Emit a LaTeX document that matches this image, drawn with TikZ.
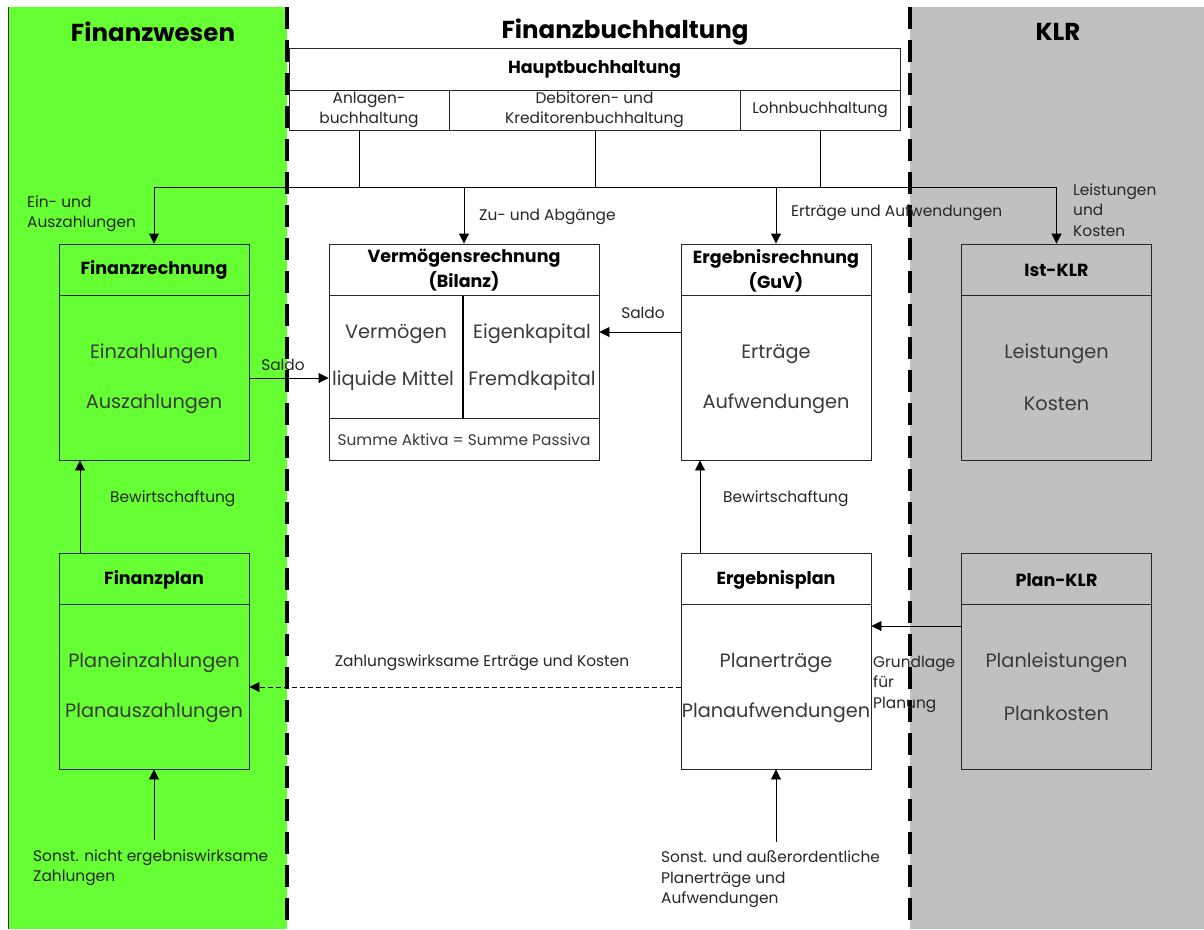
\documentclass[tikz,border=0pt]{standalone}
\usepackage{fontspec}
\setmainfont{Poppins}
\usetikzlibrary{arrows.meta}
\definecolor{fgreen}{HTML}{66FF33}
\definecolor{klrgrey}{HTML}{C0C0C0}
\definecolor{bodytxt}{HTML}{3A3A3A}
\begin{document}
\begin{tikzpicture}[x=1pt,y=-1pt,
  box/.style={draw=black!85, line width=0.9pt, minimum width=190pt, minimum height=216pt, inner sep=0pt},
  cell/.style={draw=black!85, line width=0.9pt, inner sep=0pt, align=center, font=\fontsize{15.4}{20}\selectfont, text=black!85},
  hdr/.style={font=\fontsize{17.5}{25}\selectfont\bfseries, align=center},
  body/.style={font=\fontsize{19.3}{22}\selectfont, text=bodytxt},
  lbl/.style={font=\fontsize{15.4}{20.5}\selectfont, align=left, inner sep=0pt, text=black!85},
  arr/.style={line width=0.9pt, -{Triangle[length=10pt,width=10pt]}},
  sepline/.style={line width=3.5pt, dash pattern=on 22pt off 11pt},
  ttl/.style={font=\fontsize{24.5}{28}\selectfont\bfseries}]
\useasboundingbox (0,0) rectangle (1204,929);
% regions
\fill[white] (0,0) rectangle (1204,929);
\fill[fgreen] (8,7) rectangle (287,929);
\draw[black!80, line width=0.8pt] (8,7) -- (8,929);
\fill[klrgrey] (910,7) rectangle (1204,929);
\draw[sepline] (287,7) -- (287,929);
\draw[sepline] (910,7) -- (910,929);
% titles
\node[ttl] (tfw) at (153,32) {Finanzwesen};
\node[ttl] (tfb) at (625,32) {Finanzbuchhaltung};
\node[ttl] (tklr) at (1058,32) {KLR};
% Hauptbuchhaltung
\node[cell, fill=white, minimum width=611pt, minimum height=42pt, font=\fontsize{17.5}{20}\selectfont\bfseries, text=black] (hb) at (594.5,69) {Hauptbuchhaltung};
\node[cell, fill=white, minimum width=160pt, minimum height=40pt] (anl) at (369,110) {Anlagen-\\buchhaltung};
\node[cell, fill=white, minimum width=291pt, minimum height=40pt] (deb) at (594.5,110) {Debitoren- und\\Kreditorenbuchhaltung};
\node[cell, fill=white, minimum width=160pt, minimum height=40pt] (lohn) at (820,110) {Lohnbuchhaltung};
% boxes
\node[box, fill=fgreen] (fr) at (154,352) {};
\node[box, fill=white, minimum width=270pt] (vr) at (464,352) {};
\node[box, fill=white] (er) at (776,352) {};
\node[box, fill=klrgrey] (ik) at (1056.5,352) {};
\node[box, fill=fgreen] (fp) at (154,661) {};
\node[box, fill=white] (ep) at (776,661) {};
\node[box, fill=klrgrey] (pk) at (1056.5,661) {};
\foreach \b in {fr,vr,er,ik,fp,ep,pk}{
  \path (\b.north west) ++(0,52) coordinate (h\b);
  \draw[black!85, line width=0.9pt] (h\b) -- (h\b -| \b.east);
}
% box contents
\node[hdr] (frh) at (154,270) {Finanzrechnung};
\node[body] (fr1) at (154,354) {Einzahlungen};
\node[body] (fr2) at (154,404) {Auszahlungen};
\node[hdr] (vrh) at (464,270.5) {Vermögensrechnung\\(Bilanz)};
\path (vr.north west) ++(0,175) coordinate (vrs);
\draw[black!85, line width=0.9pt] (vrs) -- (vrs -| vr.east);
\draw[black, line width=2pt] (463,296) -- (463,419);
\node[body] (vr1) at (396,334) {Vermögen};
\node[body] (vr2) at (393,381) {liquide Mittel};
\node[body] (vr3) at (532,334) {Eigenkapital};
\node[body] (vr4) at (532,381) {Fremdkapital};
\node[font=\fontsize{15.4}{18}\selectfont, text=bodytxt] (vr5) at (464,440) {Summe Aktiva = Summe Passiva};
\node[hdr] (erh) at (776,271) {Ergebnisrechnung\\(GuV)};
\node[body] (er1) at (776,354) {Erträge};
\node[body] (er2) at (776,404) {Aufwendungen};
\node[hdr] (ikh) at (1056.5,270) {Ist-KLR};
\node[body] (ik1) at (1056.5,354) {Leistungen};
\node[body] (ik2) at (1056.5,404) {Kosten};
\node[hdr] (fph) at (154,580) {Finanzplan};
\node[body] (fp1) at (154,663) {Planeinzahlungen};
\node[body] (fp2) at (154,713) {Planauszahlungen};
\node[hdr] (eph) at (776,580) {Ergebnisplan};
\node[body] (ep1) at (776,663) {Planerträge};
\node[body] (ep2) at (776,713) {Planaufwendungen};
\node[hdr] (pkh) at (1056.5,580) {Plan-KLR};
\node[body] (pk1) at (1056.5,663) {Planleistungen};
\node[body] (pk2) at (1056.5,713) {Plankosten};
% bus
\coordinate (busL) at (154,187);
\coordinate (busR) at (1056.5,187);
\coordinate (jA) at (359,187);
\coordinate (jD) at (595,187);
\coordinate (jL) at (820,187);
\draw[line width=0.9pt] (busL) -- (busR);
\draw[line width=0.9pt] (jA |- anl.south) -- (jA);
\draw[line width=0.9pt] (jD |- deb.south) -- (jD);
\draw[line width=0.9pt] (jL |- lohn.south) -- (jL);
\draw[arr] (busL) -- (fr.north);
\draw[arr] (vr.north |- busL) -- (vr.north);
\draw[arr] (er.north |- busL) -- (er.north);
\draw[arr] (busR) -- (ik.north);
% other connectors
\coordinate (s1) at (0,378);
\coordinate (s2) at (0,332);
\draw[arr] (fr.east |- s1) -- (vr.west |- s1);
\draw[arr] (er.west |- s2) -- (vr.east |- s2);
\coordinate (b1) at (80,0);
\coordinate (b2) at (700,0);
\draw[arr] (b1 |- fp.north) -- (b1 |- fr.south);
\draw[arr] (b2 |- ep.north) -- (b2 |- er.south);
\coordinate (d1) at (0,687);
\draw[arr, dash pattern=on 5pt off 3pt] (ep.west |- d1) -- (fp.east |- d1);
\coordinate (g1) at (0,626);
\draw[arr] (pk.west |- g1) -- (ep.east |- g1);
\coordinate (src1) at (154,840);
\coordinate (src2) at (776,842);
\draw[arr] (src1) -- (fp.south);
\draw[arr] (src2) -- (ep.south);
% labels
\node[lbl, anchor=west] (l1) at (27,213.5) {Ein- und\\Auszahlungen};
\node[lbl, anchor=west] (l2) at (479,217) {Zu- und Abgänge};
\node[lbl, anchor=west] (l3) at (791,213) {Erträge und Aufwendungen};
\node[lbl, anchor=west] (l4) at (1073,210) {Leistungen\\und\\Kosten};
\node[lbl] (l5) at (283,365) {Saldo};
\node[lbl] (l6) at (643,313) {Saldo};
\node[lbl, anchor=west] (l7) at (110,499) {Bewirtschaftung};
\node[lbl, anchor=west] (l8) at (723,499) {Bewirtschaftung};
\node[lbl] (l9) at (482,663) {Zahlungswirksame Erträge und Kosten};
\node[lbl, anchor=west] (l10) at (873,684) {Grundlage\\für\\Planung};
\node[lbl, anchor=west] (l11) at (33,867.5) {Sonst. nicht ergebniswirksame\\Zahlungen};
\node[lbl, anchor=west] (l12) at (661,879.5) {Sonst. und außerordentliche\\Planerträge und\\Aufwendungen};
\end{tikzpicture}
\end{document}
